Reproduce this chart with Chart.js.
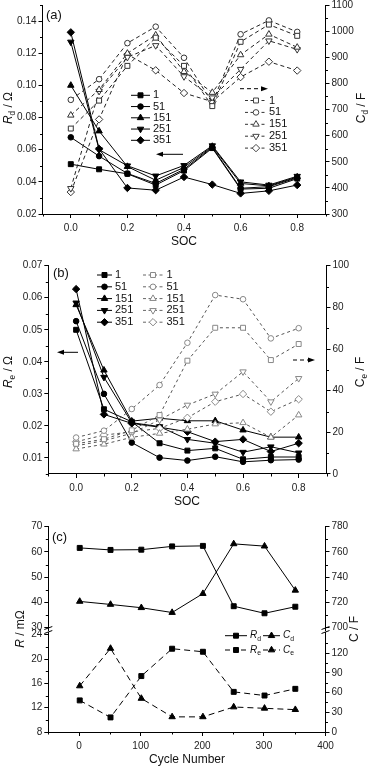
<!DOCTYPE html>
<html><head><meta charset="utf-8">
<script src="https://cdn.jsdelivr.net/npm/chart.js@4.4.1/dist/chart.umd.min.js"></script>
<style>
html,body{margin:0;padding:0;background:#fff;width:369px;height:766px;overflow:hidden}
canvas{position:absolute;left:0;top:0}
</style></head><body>
<canvas id="ca" width="369" height="766"></canvas>
<canvas id="cb" width="369" height="766"></canvas>
<canvas id="cc1" width="369" height="766"></canvas>
<canvas id="cc2" width="369" height="766"></canvas>
<script>
// ---------------- DATA ----------------
const SOC = [0, 0.1, 0.2, 0.3, 0.4, 0.5, 0.6, 0.7, 0.8];
const CYCLE_NAMES = ['1', '51', '151', '251', '351'];

// (a) Rd (Ω)
const aRd1   = [0.051, 0.0478, 0.045, 0.038, 0.047, 0.061, 0.0355, 0.036, 0.042];
const aRd51  = [0.0677, 0.056, 0.0452, 0.039, 0.0478, 0.0615, 0.036, 0.037, 0.0425];
const aRd151 = [0.100, 0.0716, 0.0495, 0.041, 0.049, 0.062, 0.039, 0.0375, 0.043];
const aRd251 = [0.127, 0.060, 0.050, 0.0437, 0.0502, 0.0625, 0.040, 0.038, 0.0435];
const aRd351 = [0.133, 0.0605, 0.0362, 0.0348, 0.043, 0.0383, 0.0328, 0.0344, 0.038];
// (a) Cd (F)
const aCd1   = [627, 734, 867, 975, 867, 713, 959, 1025, 982];
const aCd51  = [737, 816, 954, 1017, 898, 725, 988, 1041, 997];
const aCd151 = [678, 776, 915, 985, 845, 765, 909, 988, 938];
const aCd251 = [398, 770, 900, 945, 826, 745, 854, 963, 930];
const aCd351 = [384, 662, 911, 850, 763, 730, 824, 883, 849];

// (b) Re (Ω)
const bRe1   = [0.050, 0.0252, 0.0213, 0.0146, 0.0123, 0.013, 0.0096, 0.0103, 0.0103];
const bRe51  = [0.0527, 0.030, 0.0148, 0.0101, 0.0092, 0.0104, 0.0088, 0.0093, 0.0095];
const bRe151 = [0.0578, 0.0374, 0.0215, 0.0224, 0.0216, 0.0216, 0.0187, 0.0165, 0.0165];
const bRe251 = [0.0584, 0.0352, 0.021, 0.0198, 0.0158, 0.0146, 0.0118, 0.0135, 0.0116];
const bRe351 = [0.0627, 0.0236, 0.0208, 0.0196, 0.0182, 0.0151, 0.0158, 0.012, 0.0146];
// (b) Ce (F)
const bCe1   = [14.5, 16.7, 21, 28.3, 54.4, 70.2, 70.2, 54.7, 62.4];
const bCe51  = [17.5, 20.8, 31.2, 42.7, 63, 85.9, 83.9, 65.1, 70];
const bCe151 = [12, 14.3, 17.6, 19.5, 21.5, 24, 24.6, 17.6, 28.3];
const bCe251 = [13.5, 16, 19.5, 26, 33.1, 38.4, 49.1, 34.7, 45.9];
const bCe351 = [15.5, 18.7, 20.2, 21.9, 27, 34.7, 38.4, 29.9, 35.9];

// (c) vs cycle number
const CYCLES = [1, 51, 101, 151, 201, 251, 301, 351];
const cRd = [61.6, 60.8, 60.9, 62.2, 62.4, 38.5, 35.7, 38.3];   // mΩ
const cCd = [720.8, 718.4, 715.8, 712, 727, 766.4, 764.6, 729.6]; // F
const cRe = [13.2, 10.4, 17.2, 21.7, 21.2, 14.6, 14.0, 15.1];   // mΩ
const cCe = [70, 127, 51, 23, 23, 38, 36, 34];                  // F

// tick labels
const aLeftTicks  = [0.02, 0.04, 0.06, 0.08, 0.10, 0.12, 0.14];
const aRightTicks = [300, 400, 500, 600, 700, 800, 900, 1000, 1100];
const socTicks    = [0.0, 0.2, 0.4, 0.6, 0.8];
const bLeftTicks  = [0.01, 0.02, 0.03, 0.04, 0.05, 0.06, 0.07];
const bRightTicks = [0, 20, 40, 60, 80, 100];
const cTopLeftTicks  = [30, 40, 50, 60, 70];
const cTopRightTicks = [700, 720, 740, 760, 780];
const cBotLeftTicks  = [8, 12, 16, 20, 24];
const cBotRightTicks = [0, 30, 60, 90, 120];
const cycleTicks  = [0, 100, 200, 300, 400];

// ---------------- HELPERS ----------------
const W = 369, H = 766;
const FAM = "'Liberation Sans', Arial, Helvetica, sans-serif";
Chart.defaults.font.family = FAM;
Chart.defaults.color = '#222';

function mids(t, lo, hi) { // minor tick positions halfway between majors
  const st = t[1] - t[0], out = [];
  for (let v = t[0] - st / 2; v <= hi + 1e-9; v += st) if (v >= lo - 1e-9) out.push(+v.toFixed(6));
  return out;
}
function linAxis(pos, min, max, ticks, fmt, size, show = true) {
  const horiz = pos === 'bottom';
  return {
    type: 'linear', position: pos, min, max,
    afterBuildTicks: s => { s.ticks = ticks.map(v => ({ value: v })); },
    afterFit: s => {
      if (horiz) { s.height = size; s.paddingLeft = 0; s.paddingRight = 0; }
      else { s.width = size; s.paddingTop = 0; s.paddingBottom = 0; }
    },
    ticks: { display: show, callback: v => fmt(v), autoSkip: false, maxRotation: 0,
             padding: horiz ? 4 : 2, font: { size: 10 }, color: '#222' },
    grid: { display: show, drawOnChartArea: false, drawTicks: true, tickLength: 4, color: '#000' },
    border: { display: show, color: '#000', width: 1 }
  };
}
const ST = [
  { ps: 'rect', r: 3.5, rot: 0, m: 'rect' },
  { ps: 'circle', r: 2.8, rot: 0, m: 'circle' },
  { ps: 'triangle', r: 3.7, rot: 0, m: 'tri' },
  { ps: 'triangle', r: 3.7, rot: 180, m: 'triDown' },
  { ps: 'rectRot', r: 3.7, rot: 0, m: 'diamond' }
];
function ds(xs, ys, axisId, st, solid, color, mcolor, dash) {
  return {
    data: xs.map((x, i) => ({ x, y: ys[i] })), yAxisID: axisId,
    borderColor: color, borderWidth: 1, borderDash: solid ? [] : dash,
    pointStyle: st.ps, pointRotation: st.rot, pointRadius: st.r, pointBorderWidth: 1,
    pointBorderColor: mcolor, pointBackgroundColor: solid ? mcolor : '#fff',
    tension: 0, fill: false, clip: 8
  };
}
function marker(ctx, m, x, y, r, fill, stroke) {
  ctx.save(); ctx.setLineDash([]); ctx.lineWidth = 1;
  ctx.beginPath();
  if (m === 'rect') { const a = r * Math.SQRT1_2; ctx.rect(x - a, y - a, 2 * a, 2 * a); }
  else if (m === 'circle') ctx.arc(x, y, r, 0, Math.PI * 2);
  else if (m === 'tri') { ctx.moveTo(x, y - r); ctx.lineTo(x + r * 0.866, y + r * 0.5); ctx.lineTo(x - r * 0.866, y + r * 0.5); ctx.closePath(); }
  else if (m === 'triDown') { ctx.moveTo(x, y + r); ctx.lineTo(x + r * 0.866, y - r * 0.5); ctx.lineTo(x - r * 0.866, y - r * 0.5); ctx.closePath(); }
  else if (m === 'diamond') { ctx.moveTo(x, y - r); ctx.lineTo(x + r, y); ctx.lineTo(x, y + r); ctx.lineTo(x - r, y); ctx.closePath(); }
  ctx.fillStyle = fill; ctx.fill(); ctx.strokeStyle = stroke; ctx.stroke();
  ctx.restore();
}
function hline(ctx, x1, x2, y, color, dash) {
  ctx.save(); ctx.strokeStyle = color; ctx.lineWidth = 1; ctx.setLineDash(dash || []);
  ctx.beginPath(); ctx.moveTo(x1, y); ctx.lineTo(x2, y); ctx.stroke(); ctx.restore();
}
function arrow(ctx, x1, x2, y, dash) { // head at x2
  const dir = Math.sign(x2 - x1);
  hline(ctx, x1, x2 - dir * 5, y, '#000', dash);
  ctx.save(); ctx.fillStyle = '#000'; ctx.beginPath();
  ctx.moveTo(x2, y); ctx.lineTo(x2 - dir * 7, y - 2.5); ctx.lineTo(x2 - dir * 7, y + 2.5); ctx.closePath(); ctx.fill();
  ctx.restore();
}
// rich text: parts = [{t, sub, it}]
function rich(ctx, parts, x, y, size, align, rot) {
  ctx.save(); ctx.translate(x, y); ctx.rotate(rot || 0);
  ctx.fillStyle = '#111'; ctx.textBaseline = 'middle';
  const f = p => (p.it ? 'italic ' : '') + (p.sub ? size * 0.68 : size) + 'px ' + FAM;
  let w = 0; parts.forEach(p => { ctx.font = f(p); w += ctx.measureText(p.t).width; });
  let cx = align === 'center' ? -w / 2 : 0;
  parts.forEach(p => { ctx.font = f(p); ctx.textAlign = 'left'; ctx.fillText(p.t, cx, p.sub ? size * 0.3 : 0); cx += ctx.measureText(p.t).width; });
  ctx.restore();
}
function text(ctx, s, x, y, size, align) {
  ctx.save(); ctx.fillStyle = '#111'; ctx.font = size + 'px ' + FAM;
  ctx.textAlign = align || 'left'; ctx.textBaseline = 'middle'; ctx.fillText(s, x, y); ctx.restore();
}
function deco(minors, draw) {
  return { id: 'deco', afterDraw(chart) {
    const ctx = chart.ctx; ctx.save(); ctx.strokeStyle = '#000'; ctx.lineWidth = 1;
    for (const [sid, vals] of Object.entries(minors)) {
      const s = chart.scales[sid];
      vals.forEach(v => {
        if (v < s.min - 1e-9 || v > s.max + 1e-9) return;
        const p = Math.round(s.getPixelForValue(v)) + 0.5;
        ctx.beginPath();
        if (s.position === 'left') { ctx.moveTo(s.right - 2.5, p); ctx.lineTo(s.right, p); }
        else if (s.position === 'right') { ctx.moveTo(s.left, p); ctx.lineTo(s.left + 2.5, p); }
        else { ctx.moveTo(p, s.top); ctx.lineTo(p, s.top + 2.5); }
        ctx.stroke();
      });
    }
    ctx.restore();
    if (draw) { ctx.save(); draw(ctx, chart); ctx.restore(); }
  }};
}
function baseOpts(top, scales, bottomPad) {
  return {
    responsive: false, animation: false, events: [], devicePixelRatio: 1,
    layout: { padding: { top, left: 0, right: 0, bottom: bottomPad || 0 } },
    plugins: { legend: { display: false }, tooltip: { enabled: false } },
    scales
  };
}
const f2 = v => v.toFixed(2), f1 = v => v.toFixed(1), f0 = v => String(Math.round(v));

// ---------------- PANEL (a) ----------------
(function () {
  const L = 42.5, R = 325.5, T = 3, B = 214;
  const rd = [aRd1, aRd51, aRd151, aRd251, aRd351];
  const cd = [aCd1, aCd51, aCd151, aCd251, aCd351];
  const sets = [];
  cd.forEach((ys, i) => sets.push(ds(SOC, ys, 'y2', ST[i], false, '#222', '#333', [4, 3])));
  rd.forEach((ys, i) => sets.push(ds(SOC, ys, 'y', ST[i], true, '#000', '#000')));
  new Chart(document.getElementById('ca'), {
    type: 'line', data: { datasets: sets },
    options: baseOpts(T, {
      x: linAxis('bottom', -0.1, 0.9, socTicks, f1, H - B),
      y: linAxis('left', 0.02, 0.15, aLeftTicks, f2, L),
      y2: linAxis('right', 300, 1100, aRightTicks, f0, W - R)
    }),
    plugins: [deco({ x: mids(socTicks, -0.1, 0.9), y: mids(aLeftTicks, 0.02, 0.15), y2: mids(aRightTicks, 300, 1100) }, ctx => {
      text(ctx, '(a)', 46, 15, 13);
      rich(ctx, [{ t: 'R', it: true }, { t: 'd', sub: true }, { t: ' / Ω' }], 9, 108, 12, 'center', -Math.PI / 2);
      rich(ctx, [{ t: 'C' }, { t: 'd', sub: true }, { t: ' / F' }], 362, 108, 12, 'center', -Math.PI / 2);
      text(ctx, 'SOC', 184, 242, 12, 'center');
      CYCLE_NAMES.forEach((n, i) => {
        const y = 95.3 + i * 11.25;
        hline(ctx, 131, 150, y, '#000');
        marker(ctx, ST[i].m, 140.5, y, ST[i].r, '#000', '#000');
        text(ctx, n, 153, y, 11);
      });
      CYCLE_NAMES.forEach((n, i) => {
        const y = 100.5 + i * 11.9;
        hline(ctx, 245, 266, y, '#333', [3, 2.5]);
        marker(ctx, ST[i].m, 256, y, ST[i].r, '#fff', '#444');
        text(ctx, n, 269, y, 11);
      });
      arrow(ctx, 183, 156, 154.3, []);
      arrow(ctx, 240, 268, 88.7, [4, 3]);
    })]
  });
})();

// ---------------- PANEL (b) ----------------
(function () {
  const L = 48.3, R = 326.5, T = 265.7, B = 474;
  const re = [bRe1, bRe51, bRe151, bRe251, bRe351];
  const ce = [bCe1, bCe51, bCe151, bCe251, bCe351];
  const sets = [];
  ce.forEach((ys, i) => sets.push(ds(SOC, ys, 'y2', ST[i], false, '#555', '#888', [3, 3])));
  re.forEach((ys, i) => sets.push(ds(SOC, ys, 'y', ST[i], true, '#000', '#000')));
  new Chart(document.getElementById('cb'), {
    type: 'line', data: { datasets: sets },
    options: baseOpts(T, {
      x: linAxis('bottom', -0.1, 0.9, socTicks, f1, H - B),
      y: linAxis('left', 0.005, 0.07, bLeftTicks, f2, L),
      y2: linAxis('right', 0, 100, bRightTicks, f0, W - R)
    }),
    plugins: [deco({ x: mids(socTicks, -0.1, 0.9), y: mids(bLeftTicks, 0.005, 0.07), y2: mids(bRightTicks, 0, 100) }, ctx => {
      text(ctx, '(b)', 53, 273, 13);
      rich(ctx, [{ t: 'R', it: true }, { t: 'e', sub: true }, { t: ' / Ω' }], 9, 372, 12, 'center', -Math.PI / 2);
      rich(ctx, [{ t: 'C' }, { t: 'e', sub: true }, { t: ' / F' }], 361, 372, 12, 'center', -Math.PI / 2);
      text(ctx, 'SOC', 187, 502, 12, 'center');
      CYCLE_NAMES.forEach((n, i) => {
        const y = 275 + i * 11.8;
        hline(ctx, 97, 112, y, '#000');
        marker(ctx, ST[i].m, 104.5, y, ST[i].r, '#000', '#000');
        text(ctx, n, 115, y, 11);
        hline(ctx, 143, 163, y, '#666', [3, 2.5]);
        marker(ctx, ST[i].m, 153, y, ST[i].r, '#fff', '#888');
        text(ctx, n, 166.5, y, 11);
      });
      arrow(ctx, 78, 57, 352.3, []);
      arrow(ctx, 293, 315, 360, [4, 3]);
    })]
  });
})();

// ---------------- PANEL (c) top: Rd, Cd ----------------
(function () {
  const L = 48.3, R = 325.5, T = 526.7, B = 630.2;
  const sets = [
    ds(CYCLES, cRd, 'y', ST[0], true, '#000', '#000'),
    ds(CYCLES, cCd, 'y2', ST[2], true, '#000', '#000')
  ];
  new Chart(document.getElementById('cc1'), {
    type: 'line', data: { datasets: sets },
    options: baseOpts(T, {
      x: linAxis('bottom', -50, 400, cycleTicks, f0, H - B, false),
      y: linAxis('left', 29, 70, cTopLeftTicks, f0, L),
      y2: linAxis('right', 698, 780, cTopRightTicks, f0, W - R)
    }),
    plugins: [deco({ y: mids(cTopLeftTicks, 29, 70), y2: mids(cTopRightTicks, 698, 780) }, ctx => {
      text(ctx, '(c)', 52, 537, 13);
    })]
  });
})();

// ---------------- PANEL (c) bottom: Re, Ce ----------------
(function () {
  const L = 48.3, R = 325.5, T = 632, B = 732;
  const sets = [
    ds(CYCLES, cRe, 'y', ST[0], false, '#000', '#000', [6, 4]),
    ds(CYCLES, cCe, 'y2', ST[2], false, '#000', '#000', [6, 4])
  ];
  sets.forEach(s => s.pointBackgroundColor = '#000');
  new Chart(document.getElementById('cc2'), {
    type: 'line', data: { datasets: sets },
    options: baseOpts(T, {
      x: linAxis('bottom', -50, 400, cycleTicks, f0, H - B),
      y: linAxis('left', 8, 24.45, cBotLeftTicks, f0, L),
      y2: linAxis('right', 0, 152, cBotRightTicks, f0, W - R)
    }),
    plugins: [deco({ x: mids(cycleTicks, -50, 400), y: mids(cBotLeftTicks, 8, 24.45), y2: mids(cBotRightTicks, 0, 152) }, ctx => {
      // axis break marks
      [L, R].forEach(x => {
        ctx.strokeStyle = '#000'; ctx.lineWidth = 1;
        [628, 632].forEach(y => { ctx.beginPath(); ctx.moveTo(x - 4, y + 1.5); ctx.lineTo(x + 4, y - 1.5); ctx.stroke(); });
      });
      rich(ctx, [{ t: 'R', it: true }, { t: ' / mΩ' }], 21, 629, 12, 'center', -Math.PI / 2);
      rich(ctx, [{ t: 'C' }, { t: ' / F' }], 355, 629, 12, 'center', -Math.PI / 2);
      text(ctx, 'Cycle Number', 187, 760, 12, 'center');
      // legend
      const rows = [[635.7, [], [{ t: 'R', it: true }, { t: 'd', sub: true }], [{ t: 'C', it: true }, { t: 'd', sub: true }]],
                    [650, [5, 3], [{ t: 'R', it: true }, { t: 'e', sub: true }], [{ t: 'C', it: true }, { t: 'e', sub: true }]]];
      rows.forEach(([y, dash, l1, l2]) => {
        hline(ctx, 225, 247, y, '#000', dash); marker(ctx, 'rect', 236, y, 3.5, '#000', '#000');
        rich(ctx, l1, 250, y, 10, 'left');
        hline(ctx, 263, 280, y, '#000', dash); marker(ctx, 'tri', 271.5, y, 3.7, '#000', '#000');
        rich(ctx, l2, 283, y, 10, 'left');
      });
    })]
  });
})();
</script>
</body></html>
